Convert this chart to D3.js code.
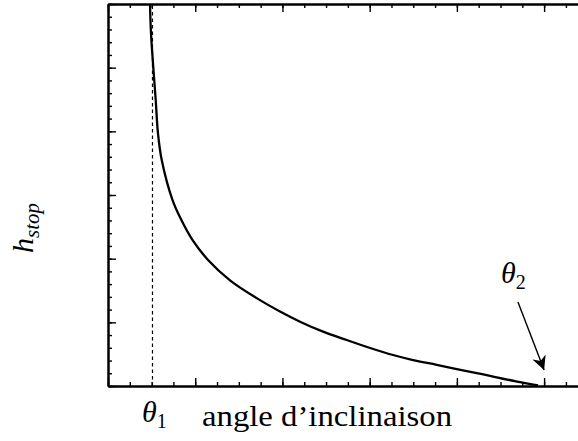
<!DOCTYPE html>
<html>
<head>
<meta charset="utf-8">
<script src="https://cdn.jsdelivr.net/npm/d3@7"></script>
<style>
  body { margin: 0; background: #fff; }
</style>
</head>
<body>
<div id="chart"></div>
<script>
// curve (axis units: one major tick = 1)
const angle = [0.482, 0.493, 0.547, 0.573, 0.616, 0.740, 0.840, 0.970, 1.147, 1.399, 1.705,
  1.972, 2.202, 2.466, 2.737, 3.005, 3.268, 3.498, 3.769, 3.999, 4.243, 4.690, 4.931];
const hstop = [6.0, 5.54, 4.49, 3.97, 3.55, 2.92, 2.61, 2.29, 1.98, 1.66, 1.38,
  1.17, 1.01, 0.853, 0.722, 0.597, 0.487, 0.408, 0.333, 0.265, 0.198, 0.068, 0.008];
const theta1 = 0.51;
const theta2 = 5.0;
const xMajor = [0, 1, 2, 3, 4, 5];
const yMajor = [0, 1, 2, 3, 4, 5, 6];

const width = 578, height = 441;
const plot = {left: 108, right: 579, top: 4, bottom: 386};
const serif = "'Liberation Serif', 'DejaVu Serif', 'Noto Serif', 'Nimbus Roman', 'FreeSerif', Tinos, Times, 'Times New Roman', serif";

const x = d3.scaleLinear().domain([0, 5.4]).range([plot.left, plot.right]);
const y = d3.scaleLinear().domain([0, 6]).range([plot.bottom, plot.top]);

const svg = d3.select("#chart")
  .append("svg")
    .attr("width", width)
    .attr("height", height);

const xMinor = d3.range(0, 5.4, 0.25);
const yMinor = d3.range(0, 6.01, 0.2);

// axes with inward ticks
function styleAxis(g) {
  g.select(".domain").attr("stroke-width", 2);
  g.selectAll(".tick line").attr("stroke-width", 1.4);
  g.selectAll(".tick text").remove();
}

svg.append("g").attr("transform", `translate(0,${plot.bottom})`)
  .call(d3.axisBottom(x).tickValues(xMinor).tickSize(-4).tickSizeOuter(0)).call(styleAxis);
svg.append("g").attr("transform", `translate(0,${plot.bottom})`)
  .call(d3.axisBottom(x).tickValues(xMajor).tickSize(-8).tickSizeOuter(0)).call(styleAxis);
svg.append("g").attr("transform", `translate(0,${plot.top})`)
  .call(d3.axisTop(x).tickValues(xMinor).tickSize(-4).tickSizeOuter(0)).call(styleAxis);
svg.append("g").attr("transform", `translate(0,${plot.top})`)
  .call(d3.axisTop(x).tickValues(xMajor).tickSize(-8).tickSizeOuter(0)).call(styleAxis);
svg.append("g").attr("transform", `translate(${plot.left},0)`)
  .call(d3.axisLeft(y).tickValues(yMinor).tickSize(-4).tickSizeOuter(0)).call(styleAxis);
svg.append("g").attr("transform", `translate(${plot.left},0)`)
  .call(d3.axisLeft(y).tickValues(yMajor).tickSize(-8).tickSizeOuter(0)).call(styleAxis);

// dashed theta1 line
svg.append("line")
  .attr("x1", x(theta1)).attr("x2", x(theta1))
  .attr("y1", y(0)).attr("y2", y(6))
  .attr("stroke", "#000")
  .attr("stroke-width", 1.2)
  .attr("stroke-dasharray", "3.5,3");

// the curve
const pts = angle.map((a, i) => [a, hstop[i]]);
svg.append("path")
  .datum(pts)
  .attr("fill", "none")
  .attr("stroke", "#000")
  .attr("stroke-width", 2.3)
  .attr("d", d3.line().x(d => x(d[0])).y(d => y(d[1])).curve(d3.curveCatmullRom.alpha(0.5)));

// arrow to theta2
svg.append("defs").append("marker")
  .attr("id", "head")
  .attr("viewBox", "0 0 10 10")
  .attr("refX", 10).attr("refY", 5)
  .attr("markerWidth", 14).attr("markerHeight", 14)
  .attr("markerUnits", "userSpaceOnUse")
  .attr("orient", "auto")
  .append("path").attr("d", "M0,0 L10,5 L0,10 L3,5 Z").attr("fill", "#000");

svg.append("line")
  .attr("x1", x(4.70)).attr("y1", y(1.32))
  .attr("x2", x(theta2)).attr("y2", y(0.25))
  .attr("stroke", "#000")
  .attr("stroke-width", 1.4)
  .attr("marker-end", "url(#head)");

// labels
const t2 = svg.append("text").attr("x", 501).attr("y", 283)
  .style("font-family", serif).style("font-size", "30px");
t2.append("tspan").style("font-style", "italic").text("θ");
t2.append("tspan").attr("dy", 6).style("font-size", "20px").text("2");

const t1 = svg.append("text").attr("x", 142).attr("y", 422)
  .style("font-family", serif).style("font-size", "30px");
t1.append("tspan").style("font-style", "italic").text("θ");
t1.append("tspan").attr("dy", 6).style("font-size", "20px").text("1");

svg.append("text")
  .attr("x", 202).attr("y", 426)
  .style("font-family", serif)
  .attr("textLength", 250)
  .attr("lengthAdjust", "spacingAndGlyphs")
  .style("font-size", "29px")
  .text("angle d’inclinaison");

const yl = svg.append("text")
  .attr("transform", "translate(33,253) rotate(-90)")
  .style("font-family", serif)
  .style("font-size", "30px")
  .style("font-style", "italic");
yl.append("tspan").text("h");
yl.append("tspan").attr("dy", 6).style("font-size", "21px").text("stop");
</script>
</body>
</html>
